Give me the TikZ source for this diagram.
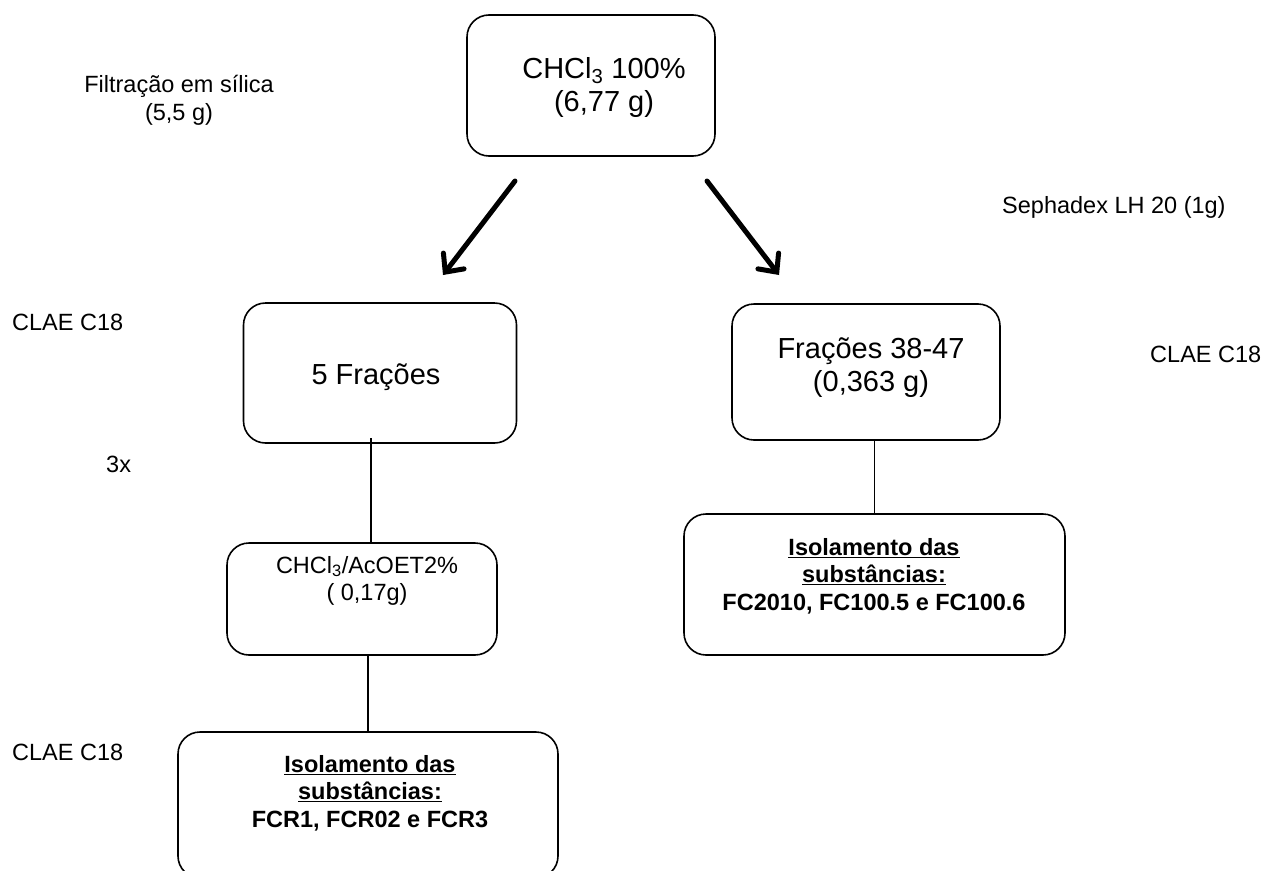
\documentclass[tikz,border=0pt]{standalone}
\usepackage{fontspec}
\setmainfont{Liberation Sans}
\usetikzlibrary{arrows.meta}
\newcommand{\ulx}[1]{$\underline{\hbox{#1}}$}
\begin{document}
\begin{tikzpicture}[x=1pt,y=-1pt,
  box/.style={draw,line width=1.6pt,rounded corners=22pt,inner sep=0pt},
  big/.style={font=\fontsize{29}{33.5}\selectfont,align=center,inner sep=0pt,anchor=north},
  small/.style={font=\fontsize{23.5}{27.5}\selectfont,align=center,inner sep=0pt},
  boldtxt/.style={small,anchor=north,font=\fontsize{23.5}{27.5}\selectfont\bfseries},
  conn/.style={line width=1.3pt},
  bigarrow/.style={line width=5pt,line cap=round,-{Straight Barb[length=14pt,width=26pt,line cap=round]}}]
\useasboundingbox (0,0) rectangle (1273,870);
% boxes
\node[box,minimum width=248pt,minimum height=141pt] (top) at (591,85.5) {};
\node[box,minimum width=273pt,minimum height=140pt] (fr5) at (380,373) {};
\node[box,minimum width=268pt,minimum height=136pt] (fr38) at (866,372) {};
\node[box,minimum width=270pt,minimum height=112pt] (mid) at (362,599) {};
\node[box,minimum width=381pt,minimum height=141pt] (isoR) at (874.5,584.5) {};
\node[box,minimum width=380pt,minimum height=146pt] (isoL) at (368,805) {};
% box texts
\node[big] (ttop) at (604,57) {CHCl\textsubscript{3} 100\%\\(6,77 g)};
\node[big] (tfr5) at (376,363) {5 Fra\c{c}\~oes};
\node[big] (tfr38) at (871,337) {Fra\c{c}\~oes 38-47\\(0,363 g)};
\node[small,anchor=north] (tmid) at (367,556) {CHCl\textsubscript{3}/AcOET2\%\\( 0,17g)};
\node[boldtxt] (tisoR) at (874,538) {\ulx{Isolamento das}\\\ulx{subst\^ancias:}\\FC2010, FC100.5 e FC100.6};
\node[boldtxt] (tisoL) at (370,755) {\ulx{Isolamento das}\\\ulx{subst\^ancias:}\\FCR1, FCR02 e FCR3};
% side labels
\node[small,anchor=north] (lfil) at (179,75) {Filtra\c{c}\~ao em s\'ilica\\(5,5 g)};
\node[small,anchor=base west] (lseph) at (1002,213) {Sephadex LH 20 (1g)};
\node[small,anchor=base west] (lclae1) at (12,330) {CLAE C18};
\node[small,anchor=base west] (lclae2) at (1150,362) {CLAE C18};
\node[small,anchor=base west] (l3x) at (106,472) {3x};
\node[small,anchor=base west] (lclae3) at (12,760) {CLAE C18};
% connectors
\coordinate (c1) at (371,438);
\draw[conn] (c1) -- (c1 |- mid.north);
\draw[conn] (isoR.north |- fr38.south) -- (isoR.north);
\draw[conn] (mid.south -| isoL.north) -- (isoL.north);
% arrows
\coordinate (a1s) at (515,181);
\coordinate (a1e) at (443,275);
\coordinate (a2s) at (707,181);
\coordinate (a2e) at (779,275);
\draw[bigarrow] (a1s) -- (a1e);
\draw[bigarrow] (a2s) -- (a2e);
\end{tikzpicture}
\end{document}
